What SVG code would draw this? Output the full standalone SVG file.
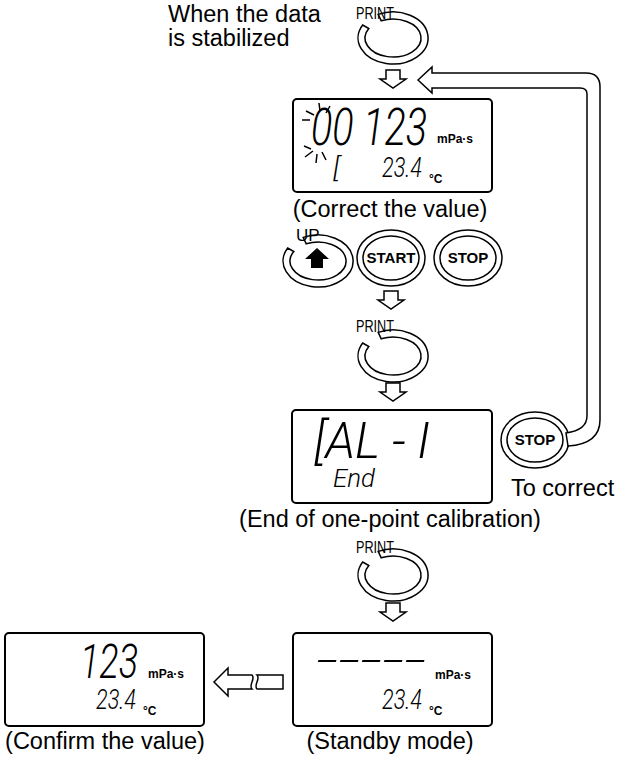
<svg xmlns="http://www.w3.org/2000/svg" width="626" height="767" viewBox="0 0 626 767">
<style>
.t{font-family:"Liberation Sans",Arial,sans-serif;font-size:23.5px;fill:#000}
.lbl{font-family:"Liberation Sans",Arial,sans-serif;font-size:17px;fill:#000}
.btn{font-family:"Liberation Sans",Arial,sans-serif;font-size:15px;font-weight:bold;fill:#000}
.u{font-family:"Liberation Sans",Arial,sans-serif;font-size:12px;font-weight:bold;fill:#000}
.lcd{font-family:Roboto,"DejaVu Sans",sans-serif;font-style:italic;font-weight:300;fill:#000}
.box{fill:#fff;stroke:#000;stroke-width:2}
.ln{fill:none;stroke:#000;stroke-width:1.5}
.arr{fill:#fff;stroke:#000;stroke-width:1.5;stroke-linejoin:miter}
</style>
<defs>
<path id="ring" fill="#fff" stroke="#000" stroke-width="1.5" d="M-14.8,-23.6 A35 26 0 1 1 -30.3,-13 L-24.2,-9.5 A28 19 0 1 0 -11.8,-17.2 Z"/>
<g id="ov">
<ellipse class="ln" cx="0" cy="0" rx="34" ry="28"/>
<ellipse class="ln" cx="0" cy="0" rx="28" ry="22"/>
</g>
<path id="da" class="arr" d="M-7,-9 H7 V0 H13 L0,9 L-13,0 H-7 Z"/>
</defs>

<g id="intro"><text class="t" x="168" y="22">When the data</text><text class="t" x="168" y="46">is stabilized</text></g>

<g id="print1"><use href="#ring" x="393" y="38"/><text class="lbl" x="356" y="19" textLength="38" lengthAdjust="spacingAndGlyphs">PRINT</text></g>
<g id="arrow1"><use href="#da" x="393" y="79"/></g>

<g id="disp1">
<rect class="box" x="293" y="99" width="199" height="93" rx="4"/>
<text class="lcd" x="311" y="145" font-size="52" textLength="116" lengthAdjust="spacingAndGlyphs">00 123</text>
<text class="u" x="437" y="143">mPa·s</text>
<text class="lcd" x="333" y="177" font-size="28">[</text>
<text class="lcd" x="382" y="177" font-size="28" textLength="40" lengthAdjust="spacingAndGlyphs">23.4</text>
<text class="u" x="429" y="183" font-size="13">°C</text>
<path class="ln" stroke-width="1" d="M306,111 L314,115 M319,103 L320,111 M330,106 L326,113 M302,120 L310,120 M305,157 L313,151 M316,163 L317,154 M326,160 L322,152 M304,146 L311,149"/>
<text class="t" x="390" y="217" text-anchor="middle">(Correct the value)</text>
</g>

<g id="up"><use href="#ring" x="318" y="261"/><text class="lbl" x="296" y="241">UP</text>
<path d="M317,248 L329,259 H323 V268 H311 V259 H305 Z" fill="#000"/></g>
<g id="start"><use href="#ov" x="391" y="258"/><text class="btn" x="391" y="263" text-anchor="middle">START</text></g>
<g id="stop1"><use href="#ov" x="468" y="258"/><text class="btn" x="468" y="263" text-anchor="middle">STOP</text></g>

<g id="arrow2"><use href="#da" x="391" y="300"/></g>
<g id="print2"><use href="#ring" x="393" y="356"/><text class="lbl" x="356" y="332" textLength="38" lengthAdjust="spacingAndGlyphs">PRINT</text></g>
<g id="arrow3"><use href="#da" x="393" y="392"/></g>

<g id="disp2">
<rect class="box" x="292" y="410" width="200" height="93" rx="4"/>
<text class="lcd" x="314" y="458" font-size="50" textLength="116" lengthAdjust="spacingAndGlyphs">[AL - I</text>
<text class="lcd" x="333" y="487" font-size="26" textLength="42" lengthAdjust="spacingAndGlyphs">End</text>
<text class="t" x="390" y="527" text-anchor="middle">(End of one-point calibration)</text>
</g>

<g id="stop2"><use href="#ov" x="535" y="440"/><text class="btn" x="535" y="445" text-anchor="middle">STOP</text>
<text class="t" x="511" y="496">To correct</text></g>

<g id="print3"><use href="#ring" x="393" y="575"/><text class="lbl" x="356" y="553" textLength="38" lengthAdjust="spacingAndGlyphs">PRINT</text></g>
<g id="arrow4"><use href="#da" x="393" y="612"/></g>

<g id="disp3">
<rect class="box" x="293" y="633" width="199" height="93" rx="4"/>
<text class="lcd" x="316" y="674" font-size="40" textLength="110" lengthAdjust="spacingAndGlyphs">-----</text>
<text class="u" x="435" y="679">mPa·s</text>
<text class="lcd" x="382" y="709" font-size="28" textLength="40" lengthAdjust="spacingAndGlyphs">23.4</text>
<text class="u" x="429" y="715" font-size="13">°C</text>
<text class="t" x="390" y="749" text-anchor="middle">(Standby mode)</text>
</g>

<g id="disp4">
<rect class="box" x="5" y="633" width="199" height="93" rx="4"/>
<text class="lcd" x="80" y="678" font-size="48" textLength="58" lengthAdjust="spacingAndGlyphs">123</text>
<text class="u" x="148" y="678">mPa·s</text>
<text class="lcd" x="96" y="709" font-size="28" textLength="40" lengthAdjust="spacingAndGlyphs">23.4</text>
<text class="u" x="143" y="715" font-size="13">°C</text>
<text class="t" x="105" y="749" text-anchor="middle">(Confirm the value)</text>
</g>

<g id="connectors">
<path class="arr" d="M283,675 H257 C261,679 253,685 257,689 H283 Z"/>
<path class="arr" d="M252,675 H228 V668 L214,682 L228,696 V689 H252 C248,685 256,679 252,675 Z"/>
<path class="arr" d="M418,80 L432,67 V73 H586 Q600,73 600,87 V420 Q600,444 568,446 L566,433 Q587,430 587,416 V94 Q587,88 580,88 H432 V93 Z"/>
</g>
</svg>
